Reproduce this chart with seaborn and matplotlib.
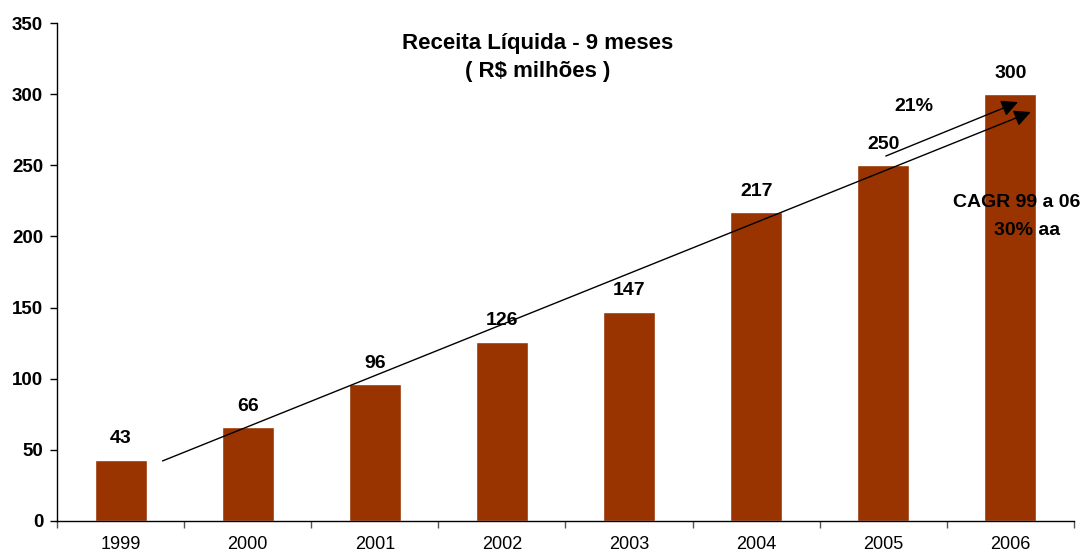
import matplotlib
matplotlib.use("Agg")
import matplotlib.pyplot as plt
from matplotlib.ticker import FixedLocator
import pandas as pd
import seaborn as sns

# Receita líquida acumulada em 9 meses (R$ milhões)
anos = ["1999", "2000", "2001", "2002", "2003", "2004", "2005", "2006"]
receita = [43, 66, 96, 126, 147, 217, 250, 300]

df = pd.DataFrame({"ano": anos, "receita": receita})

sns.set_theme(style="white")
plt.rcParams["font.family"] = ["Liberation Sans", "DejaVu Sans"]
plt.rcParams["text.color"] = "black"
plt.rcParams["xtick.color"] = "black"
plt.rcParams["ytick.color"] = "black"

fig = plt.figure(figsize=(10.8, 5.56), dpi=100)
ax = fig.add_axes([0.0528, 0.063, 0.9416, 0.8956])

sns.barplot(data=df, x="ano", y="receita", color="#993300", width=0.41,
            saturation=1, ax=ax)

ax.set_ylim(0, 350)
ax.set_xlim(-0.5, len(anos) - 0.5)
ax.set_yticks(range(0, 351, 50))
ax.set_xlabel("")
ax.set_ylabel("")

# rótulos com valores
for i, v in enumerate(receita):
    ax.annotate(str(v), (i, v), xytext=(0, 9), textcoords="offset points",
                ha="center", va="bottom", fontsize=14, fontweight="bold")

# eixos
sns.despine(ax=ax)
for s in ("left", "bottom"):
    ax.spines[s].set_color("black")
    ax.spines[s].set_linewidth(1.0)
ax.xaxis.set_minor_locator(FixedLocator([i - 0.5 for i in range(len(anos) + 1)]))
ax.tick_params(axis="x", which="major", length=0, labelsize=13, pad=11)
ax.tick_params(axis="x", which="minor", length=5, width=1, direction="out",
               color="#555555", bottom=True)
ax.tick_params(axis="y", length=5, width=1, direction="out", left=True,
               labelsize=13.5, pad=5)
for lbl in ax.get_yticklabels():
    lbl.set_fontweight("bold")

# título
ax.text(3.28, 325.5, "Receita Líquida - 9 meses\n( R$ milhões )", ha="center",
        va="center", fontsize=16, fontweight="bold", linespacing=1.45)

# setas de tendência
ax.annotate("", xy=(7.16, 287.4), xytext=(0.33, 42.2),
            arrowprops=dict(arrowstyle="-|>", color="black", lw=1.0,
                            mutation_scale=25, shrinkA=0, shrinkB=0))
ax.annotate("", xy=(7.06, 294.4), xytext=(6.02, 256.5),
            arrowprops=dict(arrowstyle="-|>", color="black", lw=1.0,
                            mutation_scale=25, shrinkA=0, shrinkB=0))

ax.text(6.24, 291, "21%", ha="center", va="center", fontsize=14,
        fontweight="bold")
ax.text(7.05, 223.5, "CAGR 99 a 06", ha="center", va="center", fontsize=14,
        fontweight="bold")
ax.text(7.13, 204.5, "30% aa", ha="center", va="center", fontsize=14,
        fontweight="bold")

fig.savefig("out.png", dpi=100)
